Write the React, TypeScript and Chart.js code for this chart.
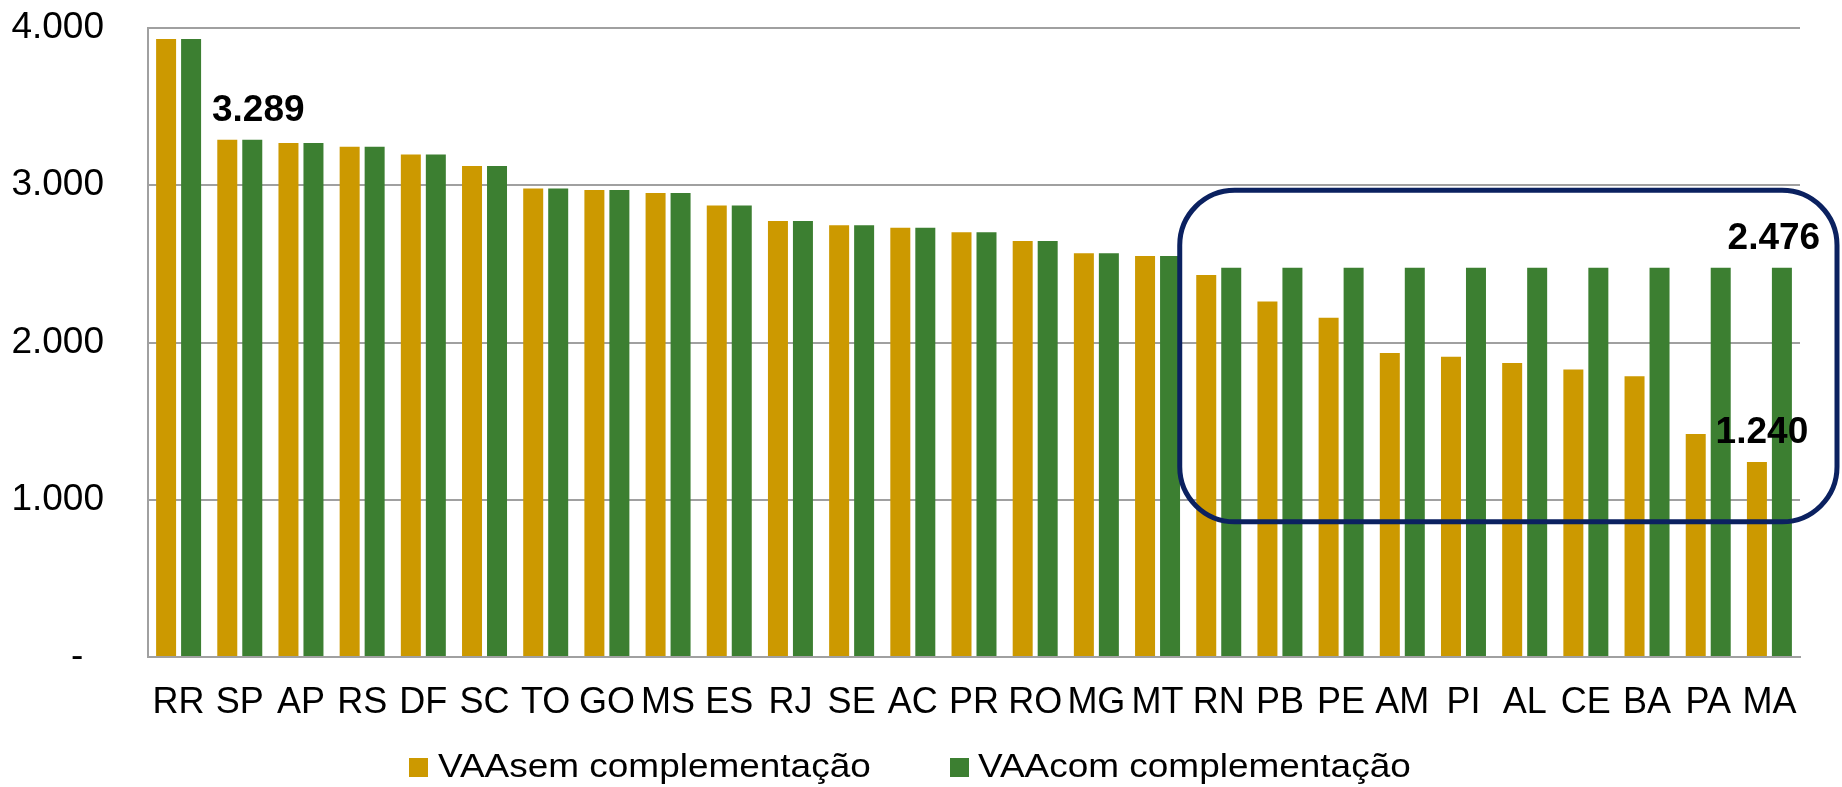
import React, { useEffect, useRef } from 'react';
import { Chart, registerables } from 'chart.js';

Chart.register(...registerables);

const states = ['RR', 'SP', 'AP', 'RS', 'DF', 'SC', 'TO', 'GO', 'MS', 'ES', 'RJ', 'SE', 'AC', 'PR', 'RO', 'MG', 'MT', 'RN', 'PB', 'PE', 'AM', 'PI', 'AL', 'CE', 'BA', 'PA', 'MA'];
const vaaSem = [3930, 3289, 3269, 3245, 3196, 3122, 2980, 2970, 2951, 2872, 2773, 2745, 2730, 2701, 2645, 2567, 2550, 2429, 2260, 2158, 1933, 1910, 1870, 1829, 1785, 1418, 1240];
const vaaCom = [3930, 3289, 3269, 3245, 3196, 3122, 2980, 2970, 2951, 2872, 2773, 2745, 2730, 2701, 2645, 2567, 2550, 2476, 2476, 2476, 2476, 2476, 2476, 2476, 2476, 2476, 2476];
const seriesNames = ['VAAsem complementação', 'VAAcom complementação'];
const seriesColors = ['#CC9900', '#3C7F31'];
const yTickValues = [0, 1000, 2000, 3000, 4000];
const callouts = [
  { series: 1, index: 1, dx: 6 },
  { series: 1, index: 26, dx: -8 },
  { series: 0, index: 26, dx: 5 },
];
const highlightStart = 'RN';
const highlightTop = 2968;
const highlightBottom = 860;

const FONT = "'Liberation Sans', Arial, Helvetica, sans-serif";

const fmt = (v: number) => (v === 0 ? '-  ' : String(v).replace(/\B(?=(\d{3})+(?!\d))/g, '.'));

const overlayPlugin = {
  id: 'overlay',
  afterDatasetsDraw(chart: any) {
    const { ctx, chartArea, scales } = chart;
    const x = scales.x;
    const y = scales.y;
    const idx = states.indexOf(highlightStart);
    const left = x.getPixelForValue(idx) - 39;
    const right = chartArea.right + 37;
    const top = y.getPixelForValue(highlightTop);
    const bottom = y.getPixelForValue(highlightBottom);
    const r = 55;
    ctx.save();
    ctx.beginPath();
    ctx.moveTo(left + r, top);
    ctx.lineTo(right - r, top);
    ctx.arcTo(right, top, right, top + r, r);
    ctx.lineTo(right, bottom - r);
    ctx.arcTo(right, bottom, right - r, bottom, r);
    ctx.lineTo(left + r, bottom);
    ctx.arcTo(left, bottom, left, bottom - r, r);
    ctx.lineTo(left, top + r);
    ctx.arcTo(left, top, left + r, top, r);
    ctx.closePath();
    ctx.lineWidth = 5;
    ctx.strokeStyle = '#0B2160';
    ctx.stroke();

    ctx.font = `bold 37px ${FONT}`;
    ctx.fillStyle = '#000';
    ctx.textAlign = 'center';
    ctx.textBaseline = 'alphabetic';
    callouts.forEach((c) => {
      const bar = chart.getDatasetMeta(c.series).data[c.index];
      const value = chart.data.datasets[c.series].data[c.index];
      ctx.fillText(fmt(value), bar.x + c.dx, bar.y - 19);
    });
    ctx.restore();
  },
};

export default function App() {
  const ref = useRef<HTMLCanvasElement>(null);

  useEffect(() => {
    if (!ref.current) return;
    const chart = new Chart(ref.current, {
      type: 'bar',
      data: {
        labels: states,
        datasets: [
          { label: seriesNames[0], data: vaaSem, backgroundColor: seriesColors[0], borderWidth: 0 },
          { label: seriesNames[1], data: vaaCom, backgroundColor: seriesColors[1], borderWidth: 0 },
        ],
      },
      options: {
        animation: false,
        responsive: false,
        devicePixelRatio: 1,
        layout: { padding: { left: 0, right: 42, top: 28, bottom: 0 } },
        datasets: { bar: { categoryPercentage: 0.817, barPercentage: 0.8 } },
        plugins: {
          legend: { display: false },
          tooltip: { enabled: false },
        },
        scales: {
          x: {
            grid: { display: false, drawTicks: false },
            border: { display: true, color: '#A0A0A0', width: 2 },
            ticks: {
              autoSkip: false,
              maxRotation: 0,
              minRotation: 0,
              padding: 24,
              color: '#000',
              font: { family: FONT, size: 36 },
            },
            afterFit: (axis: any) => {
              axis.height = 130;
              axis.paddingLeft = 0;
              axis.paddingRight = 0;
            },
          },
          y: {
            min: 0,
            max: 4000,
            afterBuildTicks: (axis: any) => {
              axis.ticks = yTickValues.map((v) => ({ value: v }));
            },
            grid: { color: '#A0A0A0', lineWidth: 2, drawTicks: false },
            border: { display: true, color: '#A0A0A0', width: 2 },
            ticks: {
              padding: 44,
              color: '#000',
              font: { family: FONT, size: 37 },
              callback: (v: any) => fmt(Number(v)),
            },
            afterFit: (axis: any) => {
              axis.width = 148;
              axis.paddingTop = 0;
              axis.paddingBottom = 0;
            },
          },
        },
      },
      plugins: [overlayPlugin],
    });
    return () => chart.destroy();
  }, []);

  const textStyle: React.CSSProperties = {
    position: 'absolute',
    top: 749,
    fontFamily: FONT,
    fontSize: 33,
    lineHeight: '33px',
    color: '#000',
    whiteSpace: 'nowrap',
    transform: 'scaleX(1.12)',
    transformOrigin: 'left center',
  };
  const boxStyle = (color: string, left: number): React.CSSProperties => ({
    position: 'absolute',
    left,
    top: 758,
    width: 19,
    height: 19,
    background: color,
  });

  return (
    <div style={{ position: 'fixed', left: 0, top: 0, width: 1842, height: 787, background: '#fff', overflow: 'hidden' }}>
      <canvas ref={ref} width={1842} height={787} style={{ display: 'block', width: 1842, height: 787 }} />
      <div style={boxStyle(seriesColors[0], 409)} />
      <div style={{ ...textStyle, left: 438 }}>{seriesNames[0]}</div>
      <div style={boxStyle(seriesColors[1], 950)} />
      <div style={{ ...textStyle, left: 978 }}>{seriesNames[1]}</div>
    </div>
  );
}
